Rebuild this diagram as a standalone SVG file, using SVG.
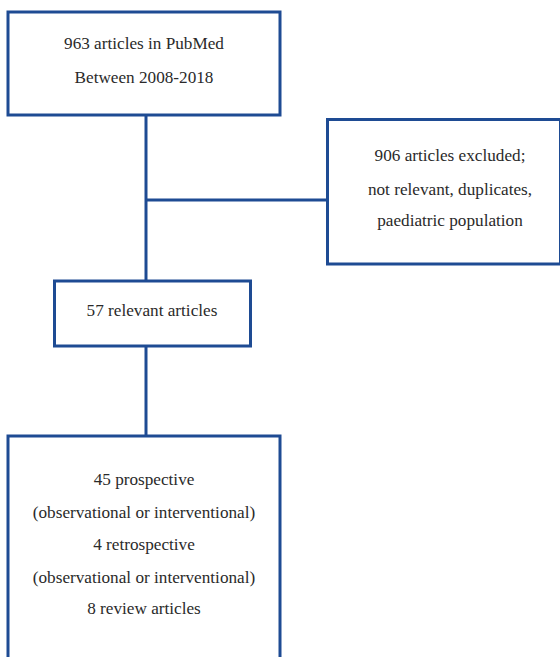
<svg xmlns="http://www.w3.org/2000/svg" width="560" height="657" viewBox="0 0 560 657">
<style>
.box{fill:#fff;stroke:#1e4b93;stroke-width:3}
.ln{stroke:#1e4b93;stroke-width:3;fill:none}
.t{font-family:'Liberation Serif','DejaVu Serif',serif;font-size:17.2px;fill:#2a2a2a;text-anchor:middle}
</style>
<rect width="560" height="657" fill="#fff"/>
<g id="connectors">
<line class="ln" x1="146" y1="115" x2="146" y2="281"/>
<line class="ln" x1="146" y1="200" x2="327" y2="200"/>
<line class="ln" x1="146" y1="346" x2="146" y2="436"/>
</g>
<g id="n1">
<rect class="box" x="8" y="12" width="272" height="103"/>
<text class="t" x="144" y="49">963 articles in PubMed</text>
<text class="t" x="144" y="83">Between 2008-2018</text>
</g>
<g id="n2">
<rect class="box" x="327.5" y="119.5" width="233" height="144.5"/>
<text class="t" x="450" y="161">906 articles excluded;</text>
<text class="t" x="450" y="195">not relevant, duplicates,</text>
<text class="t" x="450" y="226">paediatric population</text>
</g>
<g id="n3">
<rect class="box" x="54.5" y="281" width="196" height="65"/>
<text class="t" x="152" y="316">57 relevant articles</text>
</g>
<g id="n4">
<rect class="box" x="8" y="436" width="272" height="230"/>
<text class="t" x="144" y="485">45 prospective</text>
<text class="t" x="144" y="518">(observational or interventional)</text>
<text class="t" x="144" y="550">4 retrospective</text>
<text class="t" x="144" y="583">(observational or interventional)</text>
<text class="t" x="144" y="614">8 review articles</text>
</g>
</svg>
